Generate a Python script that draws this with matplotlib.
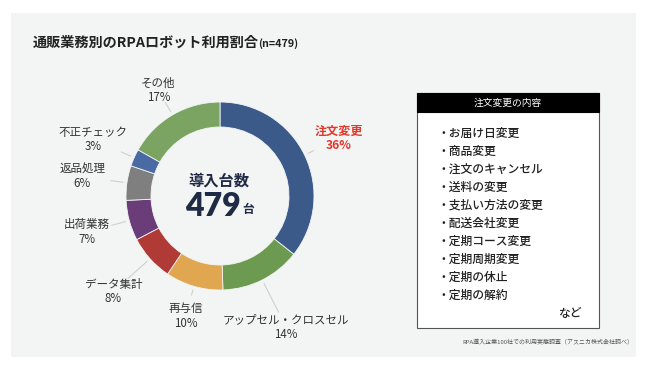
import numpy as np
import matplotlib
matplotlib.use("Agg")
import matplotlib.pyplot as plt
from matplotlib.patches import Rectangle

plt.rcParams['font.family'] = ['Noto Sans CJK JP', 'DejaVu Sans']

# data
labels = ['注文変更', 'アップセル・クロスセル', '再与信', 'データ集計',
          '出荷業務', '返品処理', '不正チェック', 'その他']
values = [36, 14, 10, 8, 7, 6, 3, 17]
colors = ['#3b5a8a', '#6b9a50', '#e0a650', '#b03a35',
          '#6b3d78', '#7f7f7f', '#4a6aa3', '#7ba462']
total_units = 479
items = ['お届け日変更', '商品変更', '注文のキャンセル', '送料の変更',
         '支払い方法の変更', '配送会社変更', '定期コース変更', '定期周期変更',
         '定期の休止', '定期の解約']

# layout (pixels)
W, H = 650, 366
cx, cy, R = 220, 196, 94
label_dist = [132, 147, 125, 143, 138, 139, 139, 122]
line_end = [104, 130, 103, 123, 112, 110, 108, 108]

fig = plt.figure(figsize=(W / 100, H / 100), dpi=100)
ax = fig.add_axes([0, 0, 1, 1])

ax.add_patch(Rectangle((11, 13), 625, 344, facecolor='#f3f5f5', edgecolor='none', zorder=0))

ax.pie(values, colors=colors, center=(cx, cy), radius=R, startangle=-90,
       counterclock=True, wedgeprops=dict(width=25, edgecolor='#f3f5f5', linewidth=0.6),
       frame=True)

ax.set_xlim(0, W)
ax.set_ylim(H, 0)
ax.set_aspect('auto')
ax.axis('off')

# labels
cum = np.cumsum(values)
mids = (cum - np.array(values) / 2) / cum[-1] * 2 * np.pi
for i, (lab, v) in enumerate(zip(labels, values)):
    a = mids[i]
    s, c = np.sin(a), -np.cos(a)
    tx, ty = cx + label_dist[i] * s, cy + label_dist[i] * c
    ax.plot([cx + 98 * s, cx + line_end[i] * s], [cy + 98 * c, cy + line_end[i] * c],
            color='#cfcfcf', lw=0.8, zorder=1)
    if i == 0:
        ax.text(tx, ty, f'{lab}\n{v}%', ha='center', va='center', fontsize=8.7,
                color='#e2392b', fontweight='bold', linespacing=1.1)
    else:
        ax.text(tx, ty, f'{lab}\n{v}%', ha='center', va='center', fontsize=8.3,
                color='#333333', linespacing=1.15)

# center text
ax.text(219, 181, '導入台数', ha='center', va='center', fontsize=11,
        fontweight='bold', color='#1f2a44')
ax.text(213, 207, str(total_units), ha='center', va='center', fontsize=23,
        fontweight='heavy', color='#1f2a44', family=['Lato', 'DejaVu Sans'])
ax.text(248, 210, '台', ha='center', va='center', fontsize=8.5,
        fontweight='bold', color='#1f2a44')

# title
ax.text(33, 43, '通販業務別のRPAロボット利用割合', ha='left', va='center',
        fontsize=10.2, fontweight='bold', color='#222222')
ax.text(258, 44, '(n=479)', ha='left', va='center', fontsize=7.8,
        fontweight='bold', color='#222222')

# box on the right
ax.add_patch(Rectangle((417, 93), 182, 235, facecolor='white', edgecolor='#555555', lw=0.8, zorder=2))
ax.add_patch(Rectangle((417, 93), 182, 19, facecolor='black', edgecolor='black', lw=0.8, zorder=3))
ax.text(508, 102.5, '注文変更の内容', ha='center', va='center', fontsize=7,
        color='white', zorder=4)
for k, it in enumerate(items):
    ax.text(438, 133 + k * 18, '・' + it, ha='left', va='center', fontsize=8.5,
            color='#222222', fontweight='medium', zorder=4)
ax.text(570, 313, 'など', ha='center', va='center', fontsize=8.5, color='#222222',
        fontweight='medium', zorder=4)

ax.text(633, 341, 'RPA導入企業100社での利用実態調査（アスニカ株式会社調べ）', ha='right',
        va='center', fontsize=4.3, color='#555555')

fig.savefig('out.png', dpi=100)
